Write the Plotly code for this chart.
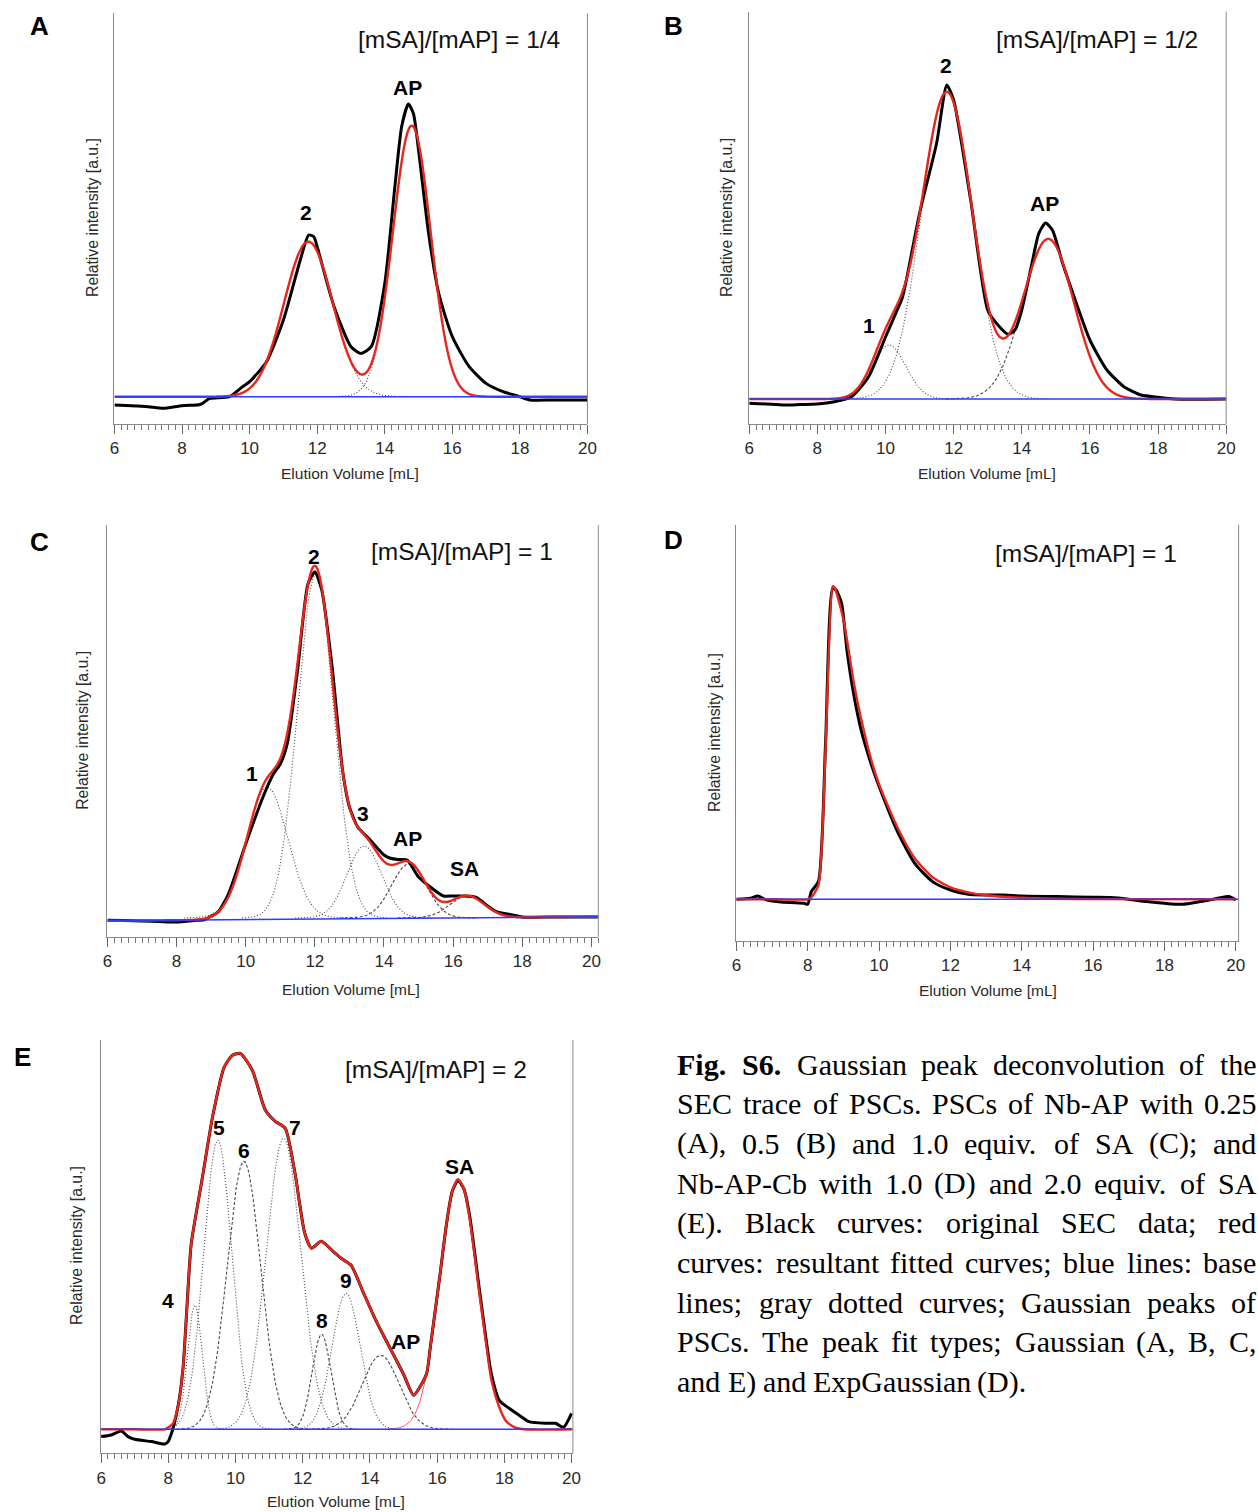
import numpy as np
import plotly.graph_objects as go

W, H = 1258, 1512

# ---------------- data ----------------
# Panel A  [mSA]/[mAP] = 1/4
a_x = [6.0, 6.5, 7.0, 7.44, 8.0, 8.5, 8.61, 8.81, 9.4, 9.79, 10.0, 10.5, 11.0, 11.5, 11.75, 11.9, 12.0,
       12.5, 13.0, 13.3, 13.6, 14.0, 14.3, 14.5, 14.7, 14.85, 15.0, 15.3, 15.6, 16.0, 16.5, 17.0, 17.5,
       18.0, 18.3, 19.0, 20.0]
a_y = [-8.3, -9.0, -10.0, -11.6, -9.0, -8.0, -6.6, -2.0, 0.0, 10.0, 15.0, 35.0, 76.7, 136.7, 161.7, 160.0,
       150.0, 90.0, 50.0, 43.3, 50.0, 113.0, 210.0, 270.0, 292.7, 283.0, 246.7, 163.0, 103.0, 60.0, 30.0,
       13.3, 5.0, 0.0, -3.3, -3.3, -3.3]
a_peak_names = ["2", "AP"]
a_centers = [11.74, 14.80]
a_heights = [155, 271]
a_widths = [0.72, 0.56]

# Panel B  [mSA]/[mAP] = 1/2
b_x = [6.0, 6.5, 7.0, 7.5, 8.0, 8.5, 9.0, 9.5, 10.0, 10.3, 10.5, 11.0, 11.5, 11.8, 12.0, 12.5, 13.0,
       13.3, 13.6, 13.8, 14.0, 14.3, 14.5, 14.7, 14.9, 15.2, 15.5, 16.0, 16.5, 17.0, 17.5, 18.0, 18.5, 20.0]
b_y = [-4.3, -5.0, -6.0, -5.5, -5.0, -2.7, 2.3, 22.0, 62.0, 85.7, 102.0, 185.7, 255.7, 314.0, 299.0, 199.0,
       89.0, 74.0, 64.7, 69.0, 89.0, 135.7, 165.7, 176.0, 169.0, 135.7, 105.7, 59.0, 29.0, 12.3, 4.0, 1.7,
       0.0, 0.0]
b_peak_names = ["1", "2", "AP"]
b_centers = [10.1, 11.8, 14.78]
b_heights = [54, 307, 160]
b_widths = [0.5, 0.75, 0.75]

# Panel C  [mSA]/[mAP] = 1
c_x = [6.0, 6.5, 7.0, 7.5, 8.0, 8.5, 8.8, 9.0, 9.2, 9.5, 10.0, 10.5, 10.8, 11.0, 11.2, 11.5, 11.8, 12.0,
       12.2, 12.5, 12.8, 13.0, 13.24, 13.6, 14.0, 14.19, 14.4, 14.67, 15.0, 15.34, 15.72, 16.0, 16.29,
       16.67, 17.0, 17.25, 17.72, 18.0, 19.0, 20.2]
c_y = [-2.3, -2.5, -3.0, -3.5, -4.0, -2.5, -1.7, 1.7, 6.0, 24.0, 74.0, 121.0, 144.0, 154.0, 174.0, 248.0,
       334.0, 346.0, 328.0, 251.0, 148.0, 111.0, 91.0, 78.0, 63.0, 59.7, 58.5, 58.0, 41.0, 31.0, 22.0,
       22.0, 22.0, 20.7, 12.0, 6.3, 3.0, 1.0, 1.0, 1.0]
c_peak_names = ["1", "2", "3", "AP", "SA"]
c_centers = [10.62, 12.02, 13.43, 14.72, 16.40]
c_heights = [131, 343, 72, 54, 22]
c_widths = [0.60, 0.53, 0.50, 0.50, 0.50]
c_baseline = [-2.8, 1.3]

# Panel D  [mSA]/[mAP] = 1 (ExpGaussian)
d_x = [6.0, 6.4, 6.6, 6.8, 7.0, 7.5, 7.9, 8.0, 8.1, 8.3, 8.5, 8.7, 8.8, 8.95, 9.1, 9.3, 9.5, 9.8, 10.0,
       10.5, 11.0, 11.5, 12.0, 12.5, 13.0, 13.5, 14.0, 15.0, 16.0, 16.5, 17.0, 17.5, 18.0, 18.5, 19.0,
       19.5, 19.8, 20.0]
d_y = [0.0, 1.0, 3.3, 0.0, -1.7, -3.3, -4.0, -5.0, 7.7, 17.7, 156.0, 311.0, 309.0, 296.0, 249.0, 203.0,
       169.0, 133.0, 113.0, 69.0, 36.0, 17.7, 9.3, 5.0, 4.3, 4.3, 3.3, 2.7, 2.0, 1.7, 0.0, -2.3, -4.0,
       -5.0, -2.3, 1.0, 2.7, -0.7]
d_fit_x = [6.0, 7.0, 8.0, 8.1, 8.3, 8.5, 8.7, 8.75, 9.0, 9.3, 9.5, 9.8, 10.0, 10.5, 11.0, 11.5, 12.0,
           12.5, 13.0, 14.0, 15.0, 16.0, 20.0]
d_fit_y = [0.0, 0.0, 0.0, 2.0, 14.0, 150.0, 313.0, 312.0, 280.0, 215.0, 180.0, 137.0, 115.0, 73.0, 41.0,
           22.0, 12.0, 7.0, 4.0, 1.5, 0.5, 0.2, 0.0]

# Panel E  [mSA]/[mAP] = 2
e_x = [6.0, 6.3, 6.6, 6.8, 7.0, 7.5, 7.9, 8.0, 8.04, 8.14, 8.3, 8.44, 8.55, 8.68, 9.0, 9.32, 9.66, 9.91,
       10.14, 10.5, 10.89, 11.18, 11.48, 11.77, 12.06, 12.26, 12.55, 12.9, 13.14, 13.44, 13.8, 14.12,
       14.4, 14.71, 15.0, 15.3, 15.5, 15.69, 15.8, 16.09, 16.28, 16.45, 16.62, 16.8, 16.97, 17.26, 17.46,
       17.61, 17.85, 18.14, 18.44, 18.73, 19.22, 19.52, 19.76, 20.0]
e_y = [-7.3, -5.7, -1.7, -7.3, -10.0, -12.3, -14.7, -12.0, -9.0, 1.0, 25.0, 62.0, 120.0, 185.0, 249.0,
       313.0, 362.0, 374.0, 376.0, 359.0, 319.0, 308.0, 301.0, 256.0, 196.0, 181.0, 188.0, 178.0, 171.0,
       164.0, 137.0, 113.0, 94.0, 74.0, 55.0, 34.0, 43.0, 56.0, 83.0, 156.0, 206.0, 238.0, 249.0, 240.0,
       213.0, 139.0, 89.0, 56.0, 29.0, 21.0, 14.0, 7.6, 6.0, 6.0, 2.0, 16.0]
e_fit_x = [6.0, 7.0, 7.9, 8.0, 8.14, 8.3, 8.44, 8.55, 8.68, 9.0, 9.32, 9.66, 9.91, 10.14, 10.5, 10.89,
           11.18, 11.48, 11.77, 12.06, 12.26, 12.55, 12.9, 13.14, 13.44, 13.8, 14.12, 14.4, 14.71, 15.0,
           15.3, 15.5, 15.69, 15.8, 16.09, 16.28, 16.45, 16.62, 16.8, 16.97, 17.26, 17.46, 17.61, 17.85,
           18.05, 18.3, 18.6, 20.0]
e_fit_y = [0.0, 0.0, 0.0, 2.0, 6.0, 25.0, 62.0, 120.0, 185.0, 249.0, 313.0, 362.0, 374.0, 376.0, 359.0,
           319.0, 308.0, 301.0, 256.0, 196.0, 181.0, 188.0, 178.0, 171.0, 164.0, 137.0, 113.0, 94.0, 74.0,
           55.0, 34.0, 43.0, 56.0, 83.0, 156.0, 206.0, 238.0, 250.0, 240.0, 210.0, 135.0, 85.0, 50.0,
           22.0, 8.0, 2.0, 0.0, 0.0]
e_peak_names = ["4", "5", "6", "7", "8", "9", "AP", "SA"]
e_centers = [8.79, 9.47, 10.25, 11.43, 12.56, 13.29, 14.32, 16.64]
e_heights = [124, 289, 268, 291, 95, 136, 74, 250]
e_widths = [0.22, 0.42, 0.50, 0.52, 0.28, 0.42, 0.55, 0.55]

ratio_labels = ["[mSA]/[mAP] = 1/4", "[mSA]/[mAP] = 1/2", "[mSA]/[mAP] = 1",
                "[mSA]/[mAP] = 1", "[mSA]/[mAP] = 2"]
panel_letters = ["A", "B", "C", "D", "E"]
x_ticks = [6, 8, 10, 12, 14, 16, 18, 20]

caption_lines = [
    "<b>Fig. S6.</b> Gaussian peak deconvolution of the",
    "SEC trace of PSCs. PSCs of Nb-AP with 0.25",
    "(A), 0.5 (B) and 1.0 equiv. of SA (C); and",
    "Nb-AP-Cb with 1.0 (D) and 2.0 equiv. of SA",
    "(E). Black curves: original SEC data; red",
    "curves: resultant fitted curves; blue lines: base",
    "lines; gray dotted curves; Gaussian peaks of",
    "PSCs. The peak fit types; Gaussian (A, B, C,",
    "and E) and ExpGaussian (D).",
]

# ---------------- styling / layout constants ----------------
BLACK = "#000000"
RED = "#e8261c"
BLUE = "#2a3cff"
GRAY = "#4a4a4a"
AXC = "#8a8a8a"
TXT = "#2a2a2a"

# panel frames in page pixels: left, right, top, bottom(x-axis), baseline, xmax
frames = {
    "A": dict(l=110.7, r=589.0, t=13.3, b=424.0, base=396.7, xmax=20.0),
    "B": dict(l=752.6, r=1234.9, t=11.7, b=424.0, base=399.0, xmax=20.0),
    "C": dict(l=103.6, r=600.0, t=525.0, b=936.7, base=918.0, xmax=20.2),
    "D": dict(l=739.6, r=1247.5, t=525.0, b=941.0, base=899.3, xmax=20.08),
    "E": dict(l=97.2, r=574.3, t=1040.0, b=1453.3, base=1429.3, xmax=20.04),
}

fig = go.Figure()
annotations = []
shapes = []


def px(x):
    return x / W


def py(y):
    return 1 - y / H


def gauss(x, c, h, s):
    return h * np.exp(-((x - c) ** 2) / (2 * s * s))


def add_text(x, y, text, size, bold=False, family="Liberation Sans", color=TXT,
             xanchor="center", angle=0):
    annotations.append(dict(
        x=px(x), y=py(y), xref="paper", yref="paper", text=("<b>%s</b>" % text) if bold else text,
        showarrow=False, xanchor=xanchor, yanchor="middle", textangle=angle,
        font=dict(size=size, family=family, color=color)))


axis_ids = {"A": "", "B": "2", "C": "3", "D": "4", "E": "5"}

for key, fr in frames.items():
    sid = axis_ids[key]
    xa = "xaxis" + sid
    ya = "yaxis" + sid
    fig.layout[xa] = dict(
        domain=[px(fr["l"]), px(fr["r"])], range=[6, fr["xmax"]], anchor="y" + sid,
        showgrid=False, zeroline=False, showline=True, linecolor=AXC, linewidth=1,
        ticks="outside", ticklen=9, tickwidth=1, tickcolor="#666",
        tickvals=x_ticks, ticktext=[str(v) for v in x_ticks],
        tickfont=dict(size=17, family="Liberation Sans", color=TXT),
        minor=dict(ticks="outside", ticklen=5, tickwidth=1, tickcolor="#777", dtick=0.2, tick0=6,
                   showgrid=False),
        fixedrange=True)
    fig.layout[ya] = dict(
        domain=[py(fr["b"]), py(fr["t"])],
        range=[fr["base"] - fr["b"], fr["base"] - fr["t"]], anchor="x" + sid,
        showgrid=False, zeroline=False, showline=True, linecolor=AXC, linewidth=1,
        showticklabels=False, ticks="", fixedrange=True)
    shapes.append(dict(type="line", xref="x%s domain" % sid, yref="y%s domain" % sid,
                       x0=1, x1=1, y0=0, y1=1, line=dict(color=AXC, width=1)))


def trace_kw(key):
    sid = axis_ids[key]
    return dict(xaxis="x" + sid, yaxis="y" + sid)


def add_components(key, centers, heights, widths, dashed, red_idx=None):
    for i, (c, h, s) in enumerate(zip(centers, heights, widths)):
        xx = np.linspace(c - 4 * s, c + 4 * s, 160)
        yy = gauss(xx, c, h, s)
        if red_idx is not None and i == red_idx:
            line = dict(color="#ff5a5a", width=1)
        else:
            line = dict(color=GRAY, width=1.1, dash="3px,2px" if i in dashed else "1px,2px")
        fig.add_trace(go.Scatter(x=xx, y=yy, mode="lines", line=line, hoverinfo="skip",
                                 showlegend=False, **trace_kw(key)))


def add_black(key, xs, ys):
    fig.add_trace(go.Scatter(x=xs, y=ys, mode="lines", line=dict(color=BLACK, width=3, shape="spline",
                                                                    smoothing=0.6),
                             hoverinfo="skip", showlegend=False, **trace_kw(key)))


def add_red(key, xs, ys):
    fig.add_trace(go.Scatter(x=xs, y=ys, mode="lines", line=dict(color=RED, width=2.4, shape="spline",
                                                                  smoothing=0.6),
                             hoverinfo="skip", showlegend=False, **trace_kw(key)))


def add_base(key, b0=0.0, b1=0.0):
    fr = frames[key]
    fig.add_trace(go.Scatter(x=[6, fr["xmax"]], y=[b0, b1], mode="lines", line=dict(color=BLUE, width=1.5),
                             hoverinfo="skip", showlegend=False, **trace_kw(key)))


def gauss_sum(xmax, centers, heights, widths, b0=0.0, b1=0.0):
    xx = np.linspace(6, xmax, 701)
    yy = b0 + (b1 - b0) * (xx - 6) / (xmax - 6)
    for c, h, s in zip(centers, heights, widths):
        yy = yy + gauss(xx, c, h, s)
    return xx, yy


# Panel A
add_components("A", a_centers, a_heights, a_widths, dashed=[])
add_black("A", a_x, a_y)
xx, yy = gauss_sum(20, a_centers, a_heights, a_widths)
add_red("A", xx, yy)
add_base("A")

# Panel B
add_components("B", b_centers, b_heights, b_widths, dashed=[2])
add_black("B", b_x, b_y)
xx, yy = gauss_sum(20, b_centers, b_heights, b_widths)
add_red("B", xx, yy)
add_base("B")

# Panel C
add_components("C", c_centers, c_heights, c_widths, dashed=[3, 4])
add_black("C", c_x, c_y)
xx, yy = gauss_sum(20.2, c_centers, c_heights, c_widths, c_baseline[0], c_baseline[1])
add_red("C", xx, yy)
add_base("C", c_baseline[0], c_baseline[1])

# Panel D
add_black("D", d_x, d_y)
add_red("D", d_fit_x, d_fit_y)
add_base("D")

# Panel E
add_components("E", e_centers, e_heights, e_widths, dashed=[2, 4, 6], red_idx=7)
add_black("E", e_x, e_y)
add_red("E", e_fit_x, e_fit_y)
add_base("E")

# ---------------- texts ----------------
letter_pos = [(35, 26), (676, 26), (35, 541.7), (676, 540), (18, 1056.7)]
ratio_pos = [(459.5, 39), (1104, 39), (462.5, 551.7), (1093.6, 553.3), (435.8, 1069)]
ytitle_pos = [(88, 218), (730, 217), (79, 730.7), (717, 733), (73, 1245.8)]
xtitle_pos = [(349, 473), (993, 473), (350, 989), (993.8, 990), (334.8, 1501.7)]
for i in range(5):
    add_text(*letter_pos[i], panel_letters[i], 26, bold=True, color="#000")
    add_text(*ratio_pos[i], ratio_labels[i], 24.5, color="#111")
    add_text(*ytitle_pos[i], "Relative intensity [a.u.]", 15.8, angle=-90)
    add_text(*xtitle_pos[i], "Elution Volume [mL]", 15.5)

peak_label_pos = {
    "A": [("2", 304, 213), ("AP", 407, 87)],
    "B": [("2", 952, 66), ("AP", 1051, 203), ("1", 874, 325)],
    "C": [("2", 312.6, 556.7), ("1", 250, 773.3), ("3", 362.3, 813.3), ("AP", 406.7, 838.3),
          ("SA", 465, 868.3)],
    "E": [("5", 216, 1127.3), ("6", 241.7, 1150), ("7", 293.3, 1127.3), ("SA", 460, 1166.7),
          ("4", 165, 1300), ("9", 345, 1280), ("8", 321, 1320), ("AP", 405, 1341.7)],
}
for key, labs in peak_label_pos.items():
    for t, x, y in labs:
        add_text(x, y, t, 21, bold=True, color="#000")

# ---------------- caption: fully justified text block ----------------
TIMES_W = {" ": 250, "(": 333, ")": 333, ",": 250, "-": 333, ".": 250, ":": 278, ";": 278,
           "0": 500, "1": 500, "2": 500, "5": 500, "6": 500,
           "A": 722, "B": 667, "C": 667, "D": 722, "E": 611, "F": 556, "G": 722, "N": 722, "P": 556,
           "S": 556, "T": 611, "a": 444, "b": 500, "c": 444, "d": 500, "e": 444, "f": 333, "g": 500,
           "h": 500, "i": 278, "k": 500, "l": 278, "n": 500, "o": 500, "p": 500, "r": 333, "s": 389,
           "t": 278, "u": 500, "v": 500, "w": 722, "x": 500, "y": 500, "m": 778}
TIMES_BW = dict(TIMES_W, F=611)
CAP_SIZE = 30
CAP_LEFT = 679
CAP_RIGHT = 1264
CAP_TOP = 1064
CAP_STEP = 39.7


def word_width(w, bold):
    tab = TIMES_BW if bold else TIMES_W
    return sum(tab.get(ch, 500) for ch in w) * CAP_SIZE / 1000.0


for li, line in enumerate(caption_lines):
    words = []
    for tok in line.replace("<b>", "\x01").replace("</b>", "\x02").split(" "):
        pass
    # split while tracking bold
    bold = False
    for tok in line.split(" "):
        b = bold
        t = tok
        if t.startswith("<b>"):
            b = True
            bold = True
            t = t[3:]
        if t.endswith("</b>"):
            t = t[:-4]
            bold = False
        words.append((t, b))
    widths = [word_width(t, b) for t, b in words]
    last = li == len(caption_lines) - 1
    if last:
        gap = 250 * CAP_SIZE / 1000.0
    else:
        gap = (CAP_RIGHT - CAP_LEFT - sum(widths)) / (len(words) - 1)
    x = CAP_LEFT
    yline = CAP_TOP + CAP_STEP * li
    for (t, b), wdt in zip(words, widths):
        add_text(x - 1, yline, t, CAP_SIZE, bold=b, family="Liberation Serif", color="#000",
                 xanchor="left")
        x += wdt + gap

fig.update_layout(
    width=W, height=H, margin=dict(l=0, r=0, t=0, b=0),
    paper_bgcolor="white", plot_bgcolor="white", showlegend=False,
    annotations=annotations, shapes=shapes,
)

fig.write_html("out.html", config={"displayModeBar": False, "staticPlot": True},
               post_script="document.body.style.margin='0';document.body.style.overflow='hidden';")
